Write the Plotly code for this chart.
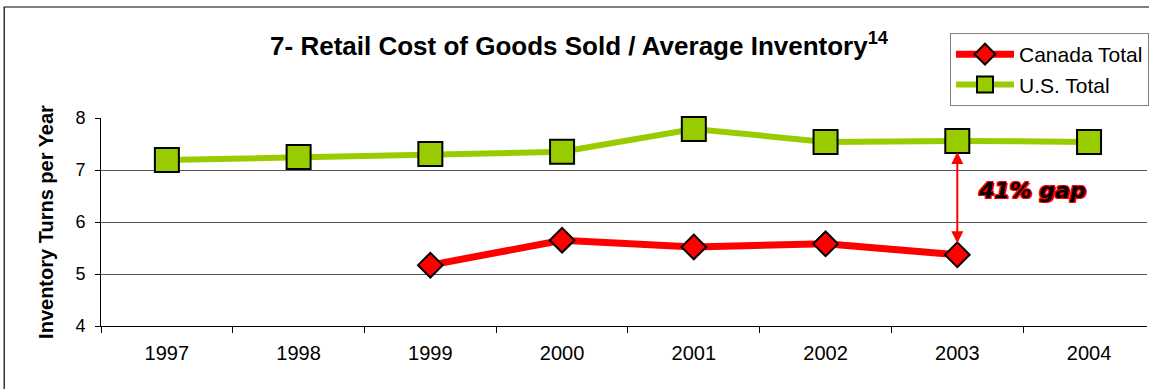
import plotly.graph_objects as go

years = ["1997", "1998", "1999", "2000", "2001", "2002", "2003", "2004"]
us_total = [7.19, 7.25, 7.31, 7.35, 7.79, 7.54, 7.56, 7.54]
canada_years = ["1999", "2000", "2001", "2002", "2003"]
canada_total = [5.17, 5.65, 5.52, 5.58, 5.37]
gap_label = "41% gap"

FONT = "Liberation Sans, Arial, sans-serif"
W, H = 1149, 389
L, R, T, B = 101, 0, 118, 63
pw, ph = W - L - R, H - T - B


def px_x(p):
    return (p - L) / pw


def px_y(p):
    return (H - B - p) / ph


fig = go.Figure()

fig.add_trace(go.Scatter(
    x=canada_years, y=canada_total, name="Canada Total", mode="lines+markers",
    legendgroup="ca", cliponaxis=False,
    line=dict(color="#FF0000", width=7),
    marker=dict(symbol="diamond", size=19, color="#FF0000",
                line=dict(color="black", width=2)),
))
fig.add_trace(go.Scatter(
    x=years, y=us_total, name="U.S. Total", mode="lines+markers",
    legendgroup="us", cliponaxis=False,
    line=dict(color="#99CC00", width=6),
    marker=dict(symbol="square", size=24, color="#99CC00",
                line=dict(color="black", width=2)),
))

# double-headed arrow marking the 2003 gap
i03 = years.index("2003")
fig.add_annotation(
    x=i03, y=us_total[i03], ax=i03, ay=canada_total[canada_years.index("2003")],
    xref="x", yref="y", axref="x", ayref="y",
    text="", showarrow=True, arrowside="end+start", arrowhead=2, arrowsize=1.2,
    arrowwidth=2, arrowcolor="#FF0000", standoff=11, startstandoff=10,
)
fig.add_annotation(
    x=px_x(1034), y=px_y(190), xref="paper", yref="paper",
    xanchor="center", yanchor="middle",
    text="<b><i>" + gap_label + "</i></b>", showarrow=False,
    font=dict(family="DejaVu Sans, sans-serif", size=22, color="black",
              shadow="-1px -1px 0 #FF0000, 1px -1px 0 #FF0000, -1px 1px 0 #FF0000, 1px 1px 0 #FF0000, 2px 1px 0 #FF0000"),
)

# outer chart frame
fig.add_shape(type="rect", xref="paper", yref="paper",
              x0=px_x(4), x1=px_x(1170), y0=px_y(400), y1=px_y(7),
              line=dict(color="black", width=1.2), layer="below")

fig.update_layout(
    width=W, height=H,
    margin=dict(l=L, r=R, t=T, b=B),
    paper_bgcolor="white", plot_bgcolor="white",
    font=dict(family=FONT, size=16, color="black"),
    title=dict(
        text="<b>7- Retail Cost of Goods Sold / Average Inventory<sup>14</sup></b>",
        x=579 / W, xanchor="center", xref="container",
        y=1 - 46 / H, yanchor="middle", yref="container",
        font=dict(family=FONT, size=26, color="black"),
    ),
    legend=dict(
        x=px_x(952), y=px_y(33), xanchor="left", yanchor="top",
        bordercolor="#808080", borderwidth=1, bgcolor="white",
        font=dict(family=FONT, size=21), itemwidth=58,
        tracegroupgap=0,
    ),
    showlegend=True,
)

fig.update_xaxes(
    type="category", categoryorder="array", categoryarray=years,
    range=[-0.5, 7.44], tickson="boundaries", ticks="outside", ticklen=6,
    tickcolor="black", showline=True, linecolor="black", linewidth=1,
    showgrid=False, tickfont=dict(family=FONT, size=20), ticklabelstandoff=9,
    fixedrange=True,
)
fig.update_yaxes(
    range=[4, 8], dtick=1, ticks="outside", ticklen=5, tickcolor="black",
    showline=True, linecolor="black", linewidth=1,
    showgrid=True, gridcolor="#555555", gridwidth=1, zeroline=False,
    tickfont=dict(family=FONT, size=18), ticklabelstandoff=6,
    title=dict(text="<b>Inventory Turns per Year</b>", standoff=16,
               font=dict(family=FONT, size=20)),
)

fig.write_html("out.html")
